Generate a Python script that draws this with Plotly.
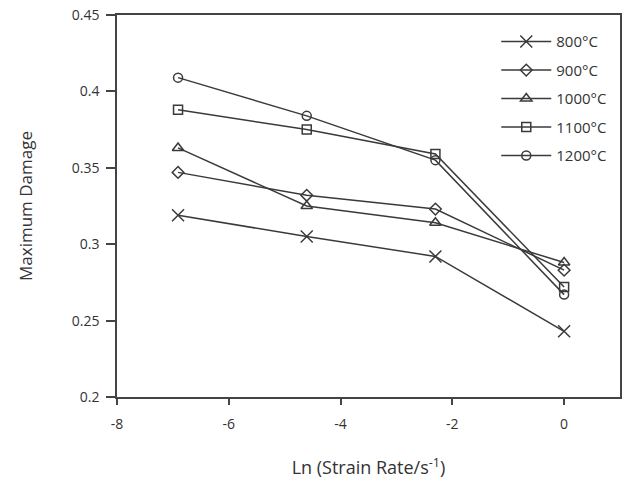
import plotly.graph_objects as go
import math

x_vals = [math.log(0.001), math.log(0.01), math.log(0.1), math.log(1.0)]
series_names = ["800°C", "900°C", "1000°C", "1100°C", "1200°C"]
d800 = [0.319, 0.305, 0.292, 0.243]
d900 = [0.347, 0.332, 0.323, 0.283]
d1000 = [0.363, 0.325, 0.314, 0.288]
d1100 = [0.388, 0.375, 0.359, 0.272]
d1200 = [0.409, 0.384, 0.355, 0.267]
x_tickvals = [-8, -6, -4, -2, 0]
x_ticktext = ["-8", "-6", "-4", "-2", "0"]
y_tickvals = [0.2, 0.25, 0.3, 0.35, 0.4, 0.45]
y_ticktext = ["0.2", "0.25", "0.3", "0.35", "0.4", "0.45"]
symbols = ["x-thin-open", "diamond-open", "triangle-up-open", "square-open", "circle-open"]
sizes = [12, 9, 10, 9, 9]

color = "#3a3a3a"
fig = go.Figure()
for name, ys, sym, sz in zip(series_names, [d800, d900, d1000, d1100, d1200], symbols, sizes):
    fig.add_trace(go.Scatter(
        x=x_vals, y=ys, name=name, legendgroup=name, mode="lines+markers",
        line=dict(color=color, width=1.5),
        marker=dict(symbol=sym, size=sz, color=color, line=dict(color=color, width=1.5)),
    ))

font = "Open Sans, DejaVu Sans, sans-serif"
fig.update_layout(
    width=632, height=484,
    margin=dict(l=117, r=12, t=15, b=87),
    paper_bgcolor="white", plot_bgcolor="white",
    font=dict(family=font, size=14, color="#333"),
    xaxis=dict(range=[-8, 1], tickvals=x_tickvals, ticktext=x_ticktext,
               showgrid=False, zeroline=False, automargin=False,
               showline=True, linecolor="#444", linewidth=1.5, mirror=True,
               ticks="outside", ticklen=6, tickcolor="#444", tickwidth=1.5,
               ticklabelstandoff=7,
               title=dict(text="Ln (Strain Rate/s<sup>-1</sup>)", font=dict(size=18), standoff=30)),
    yaxis=dict(range=[0.2, 0.45], tickvals=y_tickvals, ticktext=y_ticktext,
               showgrid=False, zeroline=False, automargin=False,
               showline=True, linecolor="#444", linewidth=1.5, mirror=True,
               ticks="outside", ticklen=9, tickcolor="#444", tickwidth=1.5,
               ticklabelstandoff=4,
               title=dict(text="Maximum Damage", font=dict(size=17), standoff=35)),
    legend=dict(x=0.754, y=0.973, xanchor="left", yanchor="top",
                bgcolor="rgba(255,255,255,0)", font=dict(size=15),
                itemwidth=50, tracegroupgap=6),
)

fig.write_html("out.html", config={"displayModeBar": False},
               post_script="document.body.style.margin='0';document.body.style.overflow='hidden';")
